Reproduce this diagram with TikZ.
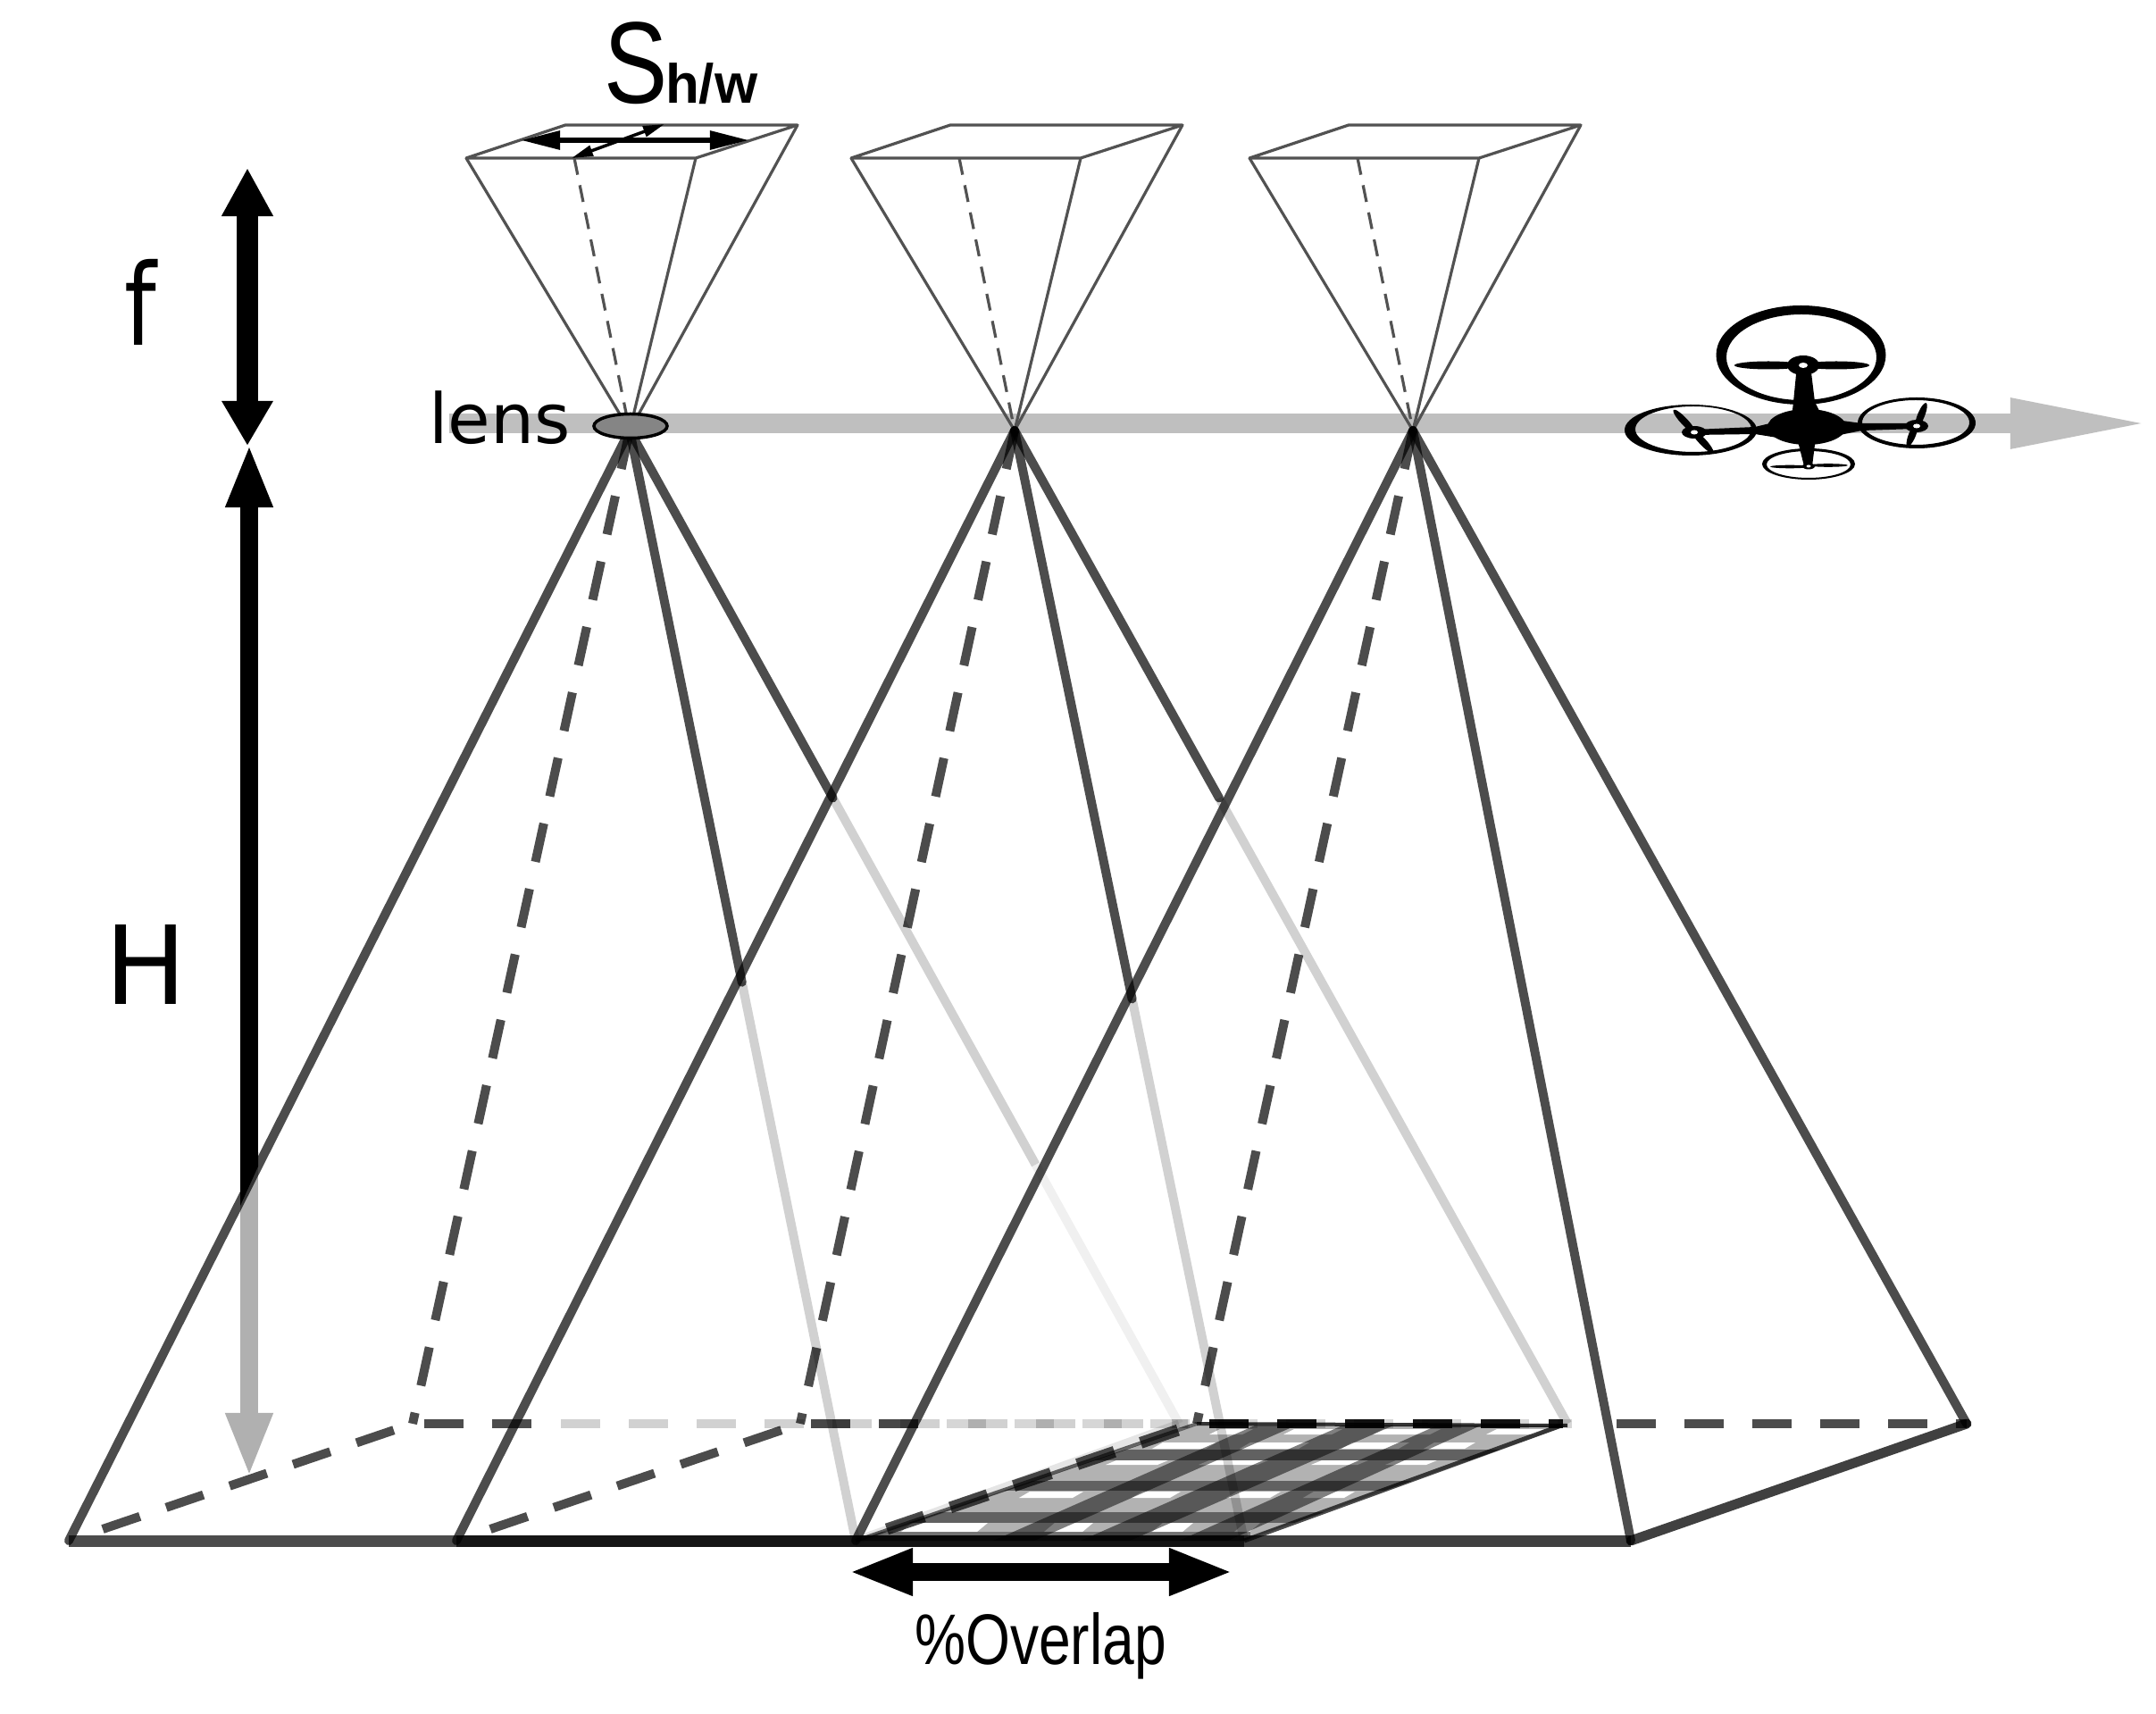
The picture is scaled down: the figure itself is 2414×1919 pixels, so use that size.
\documentclass[tikz,border=0pt]{standalone}
\usepackage{fontspec}
\usepackage{graphicx}
\setmainfont{Liberation Sans}
\newfontfamily\dvs{DejaVu Sans}
\usetikzlibrary{arrows.meta,calc,shapes.geometric}
\tikzset{
  big/.style={line width=.1cm,opacity=.7,line cap=round},
  faint/.style={line width=.1cm,opacity=.18},
  bigdash/.style={line width=.1cm,opacity=.7,dash pattern=on .44cm off .31cm},
  backdash/.style={line width=.1cm,dash pattern=on .44cm off .32cm},
  thinline/.style={line width=.032cm,draw=black!68},
  thindash/.style={line width=.032cm,draw=black!68,dash pattern=on .19cm off .12cm},
  lab/.style={inner sep=0pt,outer sep=0pt,text=black},
}
\begin{document}
\begin{tikzpicture}[x=.01cm,y=-.01cm]
\path[use as bounding box,fill=white] (0,0) rectangle (2414,1919);
% apexes and ground corners
\coordinate (a1) at (705,482);
\coordinate (a2) at (1136,482);
\coordinate (a3) at (1582,482);
\coordinate (fl1) at (77,1725);
\coordinate (fl2) at (511,1725);
\coordinate (fl3) at (958,1725);
\coordinate (fr2) at (1393,1725);
\coordinate (fr3) at (1826,1725);
\coordinate (bl1) at (462,1594);
\coordinate (bl2) at (896,1594);
\coordinate (bl3) at (1340,1594);
\coordinate (br1) at (1320,1594);
\coordinate (br2) at (1755,1594);
\coordinate (br3) at (2202,1594);
% flight arrow
\coordinate (fs) at (503,474);
\coordinate (fe) at (2409,474);
\draw[draw=black!25,line width=.21cm,-{Triangle[length=1.58cm,width=.51cm]}] (fs) -- (fe);
% sensor boxes
\foreach \d/\a in {0/a1,431/a2,877/a3}{
  \coordinate (sa) at (522+\d,177);
  \coordinate (sb) at (779+\d,177);
  \coordinate (sc) at (893+\d,140);
  \coordinate (sd) at (633+\d,140);
  \coordinate (se) at (643+\d,177);
  \draw[thinline,line join=round] (sa) -- (sb) -- (sc) -- (sd) -- cycle;
  \draw[thinline] (sa) -- (\a);
  \draw[thinline] (sb) -- (\a);
  \draw[thinline] (sc) -- (\a);
  \draw[thindash] (se) -- (\a);
}
% sensor arrows
\coordinate (hl) at (583,157);
\coordinate (hr) at (839,157);
\draw[line width=.06cm,{Triangle[length=.44cm,width=.2cm]}-{Triangle[length=.44cm,width=.2cm]}] (hl) -- (hr);
\coordinate (dl) at (640,177);
\coordinate (dr) at (744,139);
\draw[line width=.035cm,{Triangle[length=.24cm,width=.12cm]}-{Triangle[length=.24cm,width=.12cm]}] (dl) -- (dr);
% f and H arrows
\coordinate (ft) at (277,188);
\coordinate (fb) at (277,499);
\draw[line width=.23cm,{Triangle[length=.54cm,width=.54cm]}-{Triangle[length=.5cm,width=.54cm]}] (ft) -- (fb);
\coordinate (ht) at (279,497);
\coordinate (hm) at (279,1300);
\coordinate (hb) at (279,1654);
\draw[draw=black!31,line width=.2cm,-{Triangle[length=.72cm,width=.48cm]}] (hm) -- (hb);
\draw[line width=.2cm,{Triangle[length=.71cm,width=.48cm]}-] (ht) -- (hm);
\fill[black] (269,1290) -- (289,1290) -- (289,1306) -- (269,1350) -- cycle;
% overlap patch
\begin{scope}
\clip (958,1725) -- (1393,1725) -- (1755,1596) -- (1340,1596) -- cycle;
\fill[black!30] (950,1590) rectangle (1760,1730);
\foreach \ya/\yb/\xa/\xb in {
 1600/1606/1360/1397,1600/1606/1443/1497,1600/1606/1543/1607,1600/1606/1670/1723,
 1615/1622/1296/1356,1615/1622/1394/1460,1615/1622/1508/1572,1615/1622/1600/1646,
 1635/1640/1244/1302,1635/1640/1348/1414,1635/1640/1474/1526,1635/1640/1557/1603,
 1670/1677/1147/1207,1670/1677/1273/1316,1670/1677/1379/1428,1670/1677/1465/1511,
 1705/1715/1015/1100,1705/1715/1175/1218,1705/1715/1296/1330,1705/1715/1388/1405}{
  \fill[white] (\xa+6,\ya) -- (\xb+6,\ya) -- (\xb-6,\yb) -- (\xa-6,\yb) -- cycle;
}
\foreach \ya/\yb in {1623/1635,1658/1669,1693/1705}{
  \fill[black,opacity=.45] (950,\ya) rectangle (1760,\yb);
}
\foreach \ta/\tb/\ba/\bb in {1405/1451/1112/1158,1503/1560/1210/1265,1609/1658/1320/1375}{
  \fill[black,opacity=.5] (\ta,1596) -- (\tb,1596) -- (\bb,1725) -- (\ba,1725) -- cycle;
}
\fill[black,opacity=.35] (950,1715) rectangle (1400,1730);
\end{scope}
\draw[line width=.05cm,opacity=.7] (fr2) -- (1748,1596);
\draw[line width=.04cm,opacity=.8] (bl3) -- (1755,1596);
\draw[line width=.04cm,opacity=.6] (fl3) -- (bl3);
\draw[line width=.09cm,opacity=.1] (fl3) -- (br1);
% pyramid 1
\draw[big] (a1) -- (fl1);
\draw[bigdash] (a1) -- (bl1);
\draw[big] (a1) -- ($(a1)!.497!(fl3)$);
\draw[faint] ($(a1)!.497!(fl3)$) -- (fl3);
\draw[big] (a1) -- ($(a1)!.37!(br1)$);
\draw[faint] ($(a1)!.37!(br1)$) -- ($(a1)!.739!(br1)$);
\draw[line width=.1cm,opacity=.06] ($(a1)!.739!(br1)$) -- (br1);
% pyramid 2
\draw[big] (a2) -- (fl2);
\draw[bigdash] (a2) -- (bl2);
\draw[big] (a2) -- ($(a2)!.512!(fr2)$);
\draw[faint] ($(a2)!.512!(fr2)$) -- (fr2);
\draw[big] (a2) -- ($(a2)!.37!(br2)$);
\draw[faint] ($(a2)!.37!(br2)$) -- (br2);
% pyramid 3
\draw[big] (a3) -- (fl3);
\draw[bigdash] (a3) -- (bl3);
\draw[big] (a3) -- (fr3);
\draw[big] (a3) -- (br3);
% ground front edges
\draw[line width=.13cm,opacity=.7] (fl1) -- (fl3);
\draw[line width=.13cm,opacity=.7] (fl2) -- (fr2);
\draw[line width=.13cm,opacity=.75] (fl3) -- (fr3);
\draw[line width=.11cm,opacity=.75,line cap=round] (fr3) -- (br3);
% ground side dashes
\coordinate (s1) at (115,1712);
\coordinate (s2) at (549,1712);
\coordinate (s3) at (993,1712);
\draw[bigdash] (s1) -- (bl1);
\draw[bigdash] (s2) -- (bl2);
\draw[bigdash,line width=.13cm] (s3) -- (bl3);
% back edges
\coordinate (k1) at (475,1594);
\coordinate (k2) at (620,1594);
\coordinate (k3) at (628,1594);
\coordinate (k4) at (1330,1594);
\draw[backdash,opacity=.7] (k1) -- (k2);
\draw[backdash,opacity=.18] (k3) -- (k4);
\coordinate (m1) at (908,1594);
\coordinate (m2) at (1050,1594);
\coordinate (m3) at (1060,1594);
\coordinate (m4) at (1760,1594);
\draw[backdash,opacity=.72] (m1) -- (m2);
\draw[backdash,opacity=.16] (m3) -- (m4);
\coordinate (n1) at (1354,1594);
\coordinate (n2) at (1750,1594);
\coordinate (n3) at (1810,1594);
\draw[backdash,opacity=.92] (n1) -- (n2);
\draw[backdash,opacity=.7] (n3) -- (br3);
% lens
\node[draw=black,line width=.035cm,fill=black!48,ellipse,minimum width=.82cm,minimum height=.27cm,inner sep=0pt] (lensshape) at (706,477) {};
% overlap arrow
\coordinate (ol) at (950,1760);
\coordinate (or) at (1381,1760);
\draw[line width=.2cm,{Triangle[length=.72cm,width=.48cm]}-{Triangle[length=.72cm,width=.48cm]}] (ol) -- (or);
% labels
\node[lab,anchor=base west] (sl) at (676,116) {\scalebox{.82}[1]{\fontsize{37pt}{40pt}\selectfont S}};
\node[lab,anchor=base west] (swl) at (745,116) {\fontsize{17.6pt}{20pt}\selectfont\bfseries h/w};
\node[lab,anchor=base] (fl) at (157,387) {\scalebox{.8}[1]{\fontsize{36pt}{40pt}\selectfont\dvs f}};
\node[lab,anchor=base] (Hl) at (163,1124) {\fontsize{34.7pt}{40pt}\selectfont\dvs H};
\node[lab,anchor=base west] (ll) at (480,497) {\fontsize{22pt}{24pt}\selectfont\dvs lens};
\node[lab,anchor=base] (ovl) at (1165,1863) {\scalebox{.8}[1]{\fontsize{22.8pt}{26pt}\selectfont\%Overlap}};
% drone
\begin{scope}
\fill[black,even odd rule] (2016.5,397.5) ellipse [x radius=95,y radius=55.5] (2017,400) ellipse [x radius=84,y radius=48];
\fill[black,even odd rule] (1893,481.5) ellipse [x radius=74,y radius=28.5] (1896,480.5) ellipse [x radius=65,y radius=25.5];
\fill[black,even odd rule] (2146,473.5) ellipse [x radius=66,y radius=28.5] (2145,473) ellipse [x radius=60,y radius=25];
\fill[black,even odd rule] (2025,519.5) ellipse [x radius=52,y radius=17.5] (2025,520) ellipse [x radius=47,y radius=15];
\fill[black] (2023,478) ellipse [x radius=44,y radius=20];
\fill[black] (2012,409) -- (2027,409) -- (2032,450) -- (2041,468) -- (2006,468) -- (2008,450) -- cycle;
\fill[black] (2012,490) -- (2033,490) -- (2029,522) -- (2020,522) -- cycle;
\fill[black] (1897,481) -- (1965,478) -- (1990,472) -- (1990,490) -- (1965,486) -- (1897,487) -- cycle;
\fill[black] (2146,474) -- (2085,474) -- (2055,470) -- (2055,488) -- (2085,482) -- (2146,480) -- cycle;
\foreach \mx/\my/\rx/\ry/\ang in {1980/409/38/4.5/0,2056/409/37/4.5/0,1886/472/18/4/-47,1906/494/18/4/-47,2151/465/15/4/68,2141/487/14/4/68,2004/522.5/22/1.8/0,2047/521/22/1.8/0}{
  \fill[black,rotate around={\ang:(\mx,\my)}] (\mx,\my) ellipse [x radius=\rx,y radius=\ry];
}
\foreach \cx/\cy/\rx/\ry/\hx/\hy in {2019/409/18/11/5/3,1897/484/14/7/4/2.5,2146/477/13/7/4/2.5,2025/522/7/3.5/2.5/1.5}{
  \fill[black] (\cx,\cy) ellipse [x radius=\rx,y radius=\ry];
  \fill[white] (\cx,\cy) ellipse [x radius=\hx,y radius=\hy];
}
\end{scope}
\end{tikzpicture}
\end{document}
